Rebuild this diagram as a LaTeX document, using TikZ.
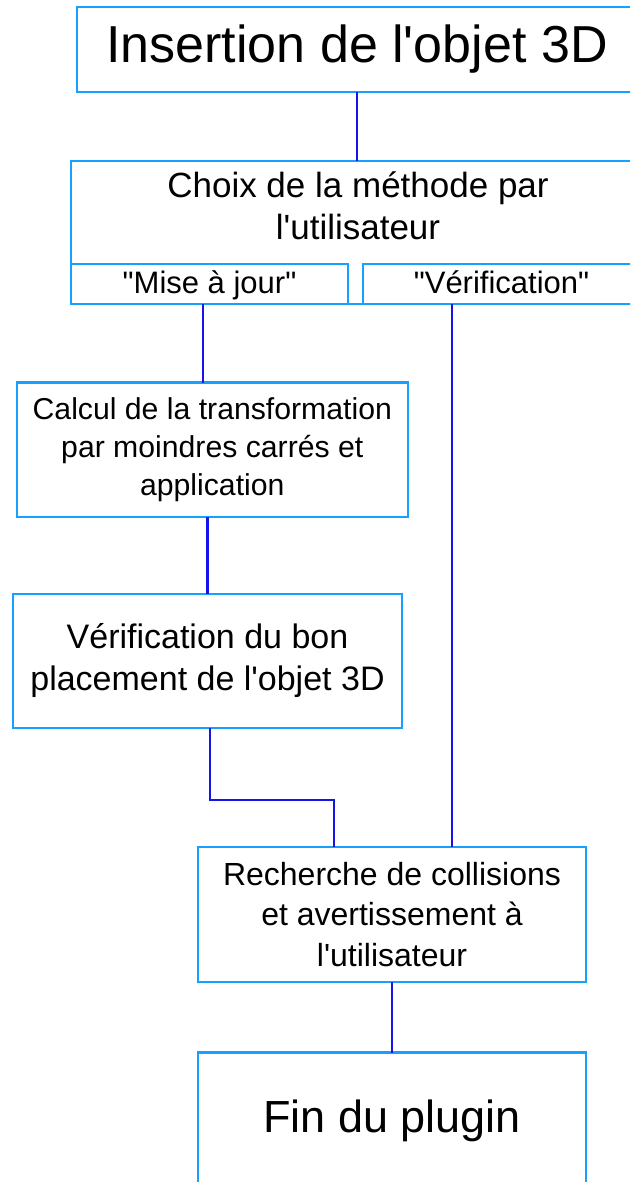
\documentclass[tikz,border=0pt]{standalone}
\usepackage{fontspec}
\setmainfont{Liberation Sans}[Ligatures=TeXOff]
\definecolor{boxblue}{RGB}{24,160,255}
\definecolor{linkblue}{RGB}{20,20,235}
\tikzset{
  box/.style={draw=boxblue, line width=2.6pt, fill=white, inner sep=0pt, outer sep=0pt, align=center, text=black, rectangle},
  subbox/.style={box, minimum width=277pt, minimum height=40pt, text height=24pt, text depth=6pt, font=\fontsize{31}{36}\selectfont},
  link/.style={draw=linkblue, line width=2.2pt},
  plain/.style={inner sep=0pt, outer sep=0pt, align=center, text=black}
}
\begin{document}
\begin{tikzpicture}[x=1pt, y=-1pt]
\useasboundingbox (0,0) rectangle (630,1182);
\clip (0,0) rectangle (630,1182);
% boxes
\node[box, minimum width=560pt, minimum height=85pt, font=\fontsize{52}{60}\selectfont] (b1) at (357,49.5) {Insertion de l'objet 3D};
\node[box, minimum width=569pt, minimum height=143pt] (b2) at (355.5,232.5) {};
\node[plain, font=\fontsize{35}{42}\selectfont] (b2t) at (358,206) {Choix de la méthode par\\l'utilisateur};
\node[subbox] (mise) at (209.5,284) {"Mise à jour"};
\node[subbox] (verif) at (501.5,284) {"Vérification"};
\node[box, minimum width=391pt, minimum height=134.5pt, font=\fontsize{30.2}{38}\selectfont] (b3) at (212.3,449.8) {Calcul de la transformation\\par moindres carrés et\\application};
\node[box, minimum width=389pt, minimum height=134pt, font=\fontsize{34}{42}\selectfont] (b4) at (207.5,661) {Vérification du bon\\placement de l'objet 3D};
\node[box, minimum width=388pt, minimum height=135pt, font=\fontsize{32}{40.5}\selectfont] (b5) at (392,914.3) {Recherche de collisions\\et avertissement à\\l'utilisateur};
\node[box, minimum width=388pt, minimum height=137pt, font=\fontsize{45}{52}\selectfont] (b6) at (392,1121.2) {Fin du plugin};
% connectors
\draw[link] (b1.south) -- (b1.south |- b2.north);
\draw[link] ([xshift=-6.5pt]mise.south) coordinate (m) -- (m |- b3.north);
\draw[link] (b3.south -| b4.north) -- (b4.north);
\draw[link] ([xshift=2.5pt]b4.south) -- ++(0,72) -| ([xshift=-58pt]b5.north);
\draw[link] ([xshift=60pt]b5.north) coordinate (v) -- (v |- verif.south);
\draw[link] (b5.south) -- (b6.north);
\end{tikzpicture}
\end{document}
